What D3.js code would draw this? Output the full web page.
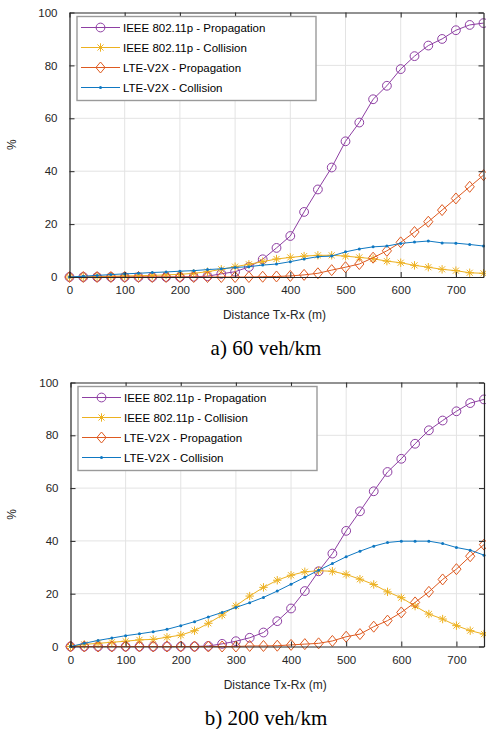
<!DOCTYPE html>
<html>
<head>
<meta charset="utf-8">
<script src="https://cdn.jsdelivr.net/npm/d3@7"></script>
<style>
  body { margin: 0; background: #fff; }
  svg { display: block; }
</style>
</head>
<body>
<svg id="chart" width="486" height="729"></svg>
<script>
// distance Tx-Rx (m), one point every 25 m
var distances = [0, 25, 50, 75, 100, 125, 150, 175, 200, 225, 250, 275, 300, 325, 350, 375,
  400, 425, 450, 475, 500, 525, 550, 575, 600, 625, 650, 675, 700, 725, 750];

var xTicks = [0, 100, 200, 300, 400, 500, 600, 700];
var yTicks = [0, 20, 40, 60, 80, 100];

var seriesNames = ['IEEE 802.11p - Propagation', 'IEEE 802.11p - Collision',
  'LTE-V2X - Propagation', 'LTE-V2X - Collision'];

// a) 60 veh/km
var ieeeProp60 = [0, 0, 0, 0, 0, 0, 0, 0, 0, 0.1, 0.3, 1.2, 2.0, 3.8, 6.7, 11.0,
  15.5, 24.6, 33.1, 41.4, 51.3, 58.4, 67.2, 72.3, 78.6, 83.5, 87.5, 90.0, 93.3, 95.3, 96.0];
var ieeeColl60 = [0, 0.1, 0.2, 0.3, 0.4, 0.5, 0.6, 0.8, 1.0, 1.4, 2.0, 2.9, 3.9, 4.8, 5.8, 6.8,
  7.4, 7.9, 8.2, 8.2, 7.9, 7.4, 6.9, 6.0, 5.4, 4.4, 3.7, 2.9, 2.4, 1.6, 1.4];
var lteProp60 = [0, 0, 0, 0, 0, 0, 0, 0, 0, 0, 0, 0, 0, 0, 0.1, 0.2,
  0.4, 0.8, 1.4, 2.6, 3.7, 4.9, 7.3, 9.9, 13.1, 17.0, 20.9, 25.3, 29.7, 34.1, 38.5];
var lteColl60 = [0, 0.3, 0.6, 0.9, 1.2, 1.4, 1.7, 1.9, 2.2, 2.4, 2.8, 3.1, 3.6, 3.9, 4.5, 4.9,
  5.8, 6.8, 7.7, 7.9, 9.5, 10.6, 11.4, 11.7, 12.7, 13.2, 13.6, 12.9, 12.8, 12.3, 11.7];

// b) 200 veh/km
var ieeeProp200 = [0, 0, 0, 0, 0, 0, 0, 0, 0, 0, 0.2, 1.0, 2.0, 3.3, 5.3, 9.6,
  14.4, 21.0, 28.5, 35.2, 43.8, 51.2, 58.8, 66.1, 71.1, 76.8, 81.9, 85.6, 89.1, 92.2, 93.6];
var ieeeColl200 = [0, 0.8, 1.2, 1.6, 2.0, 2.5, 2.7, 3.5, 4.3, 6.0, 8.8, 11.9, 15.4, 19.1, 22.4, 25.1,
  27.0, 28.3, 28.7, 28.5, 27.3, 25.5, 23.5, 20.7, 18.5, 15.3, 12.3, 10.4, 7.9, 6.0, 4.7];
var lteProp200 = [0, 0, 0, 0, 0, 0, 0, 0, 0, 0, 0, 0, 0, 0.2, 0.2, 0.3,
  0.6, 0.9, 1.2, 2.1, 3.7, 4.7, 7.5, 9.8, 12.9, 16.7, 20.7, 25.4, 29.3, 34.2, 38.6];
var lteColl200 = [0, 1.2, 2.3, 3.2, 4.1, 4.8, 5.6, 6.5, 7.9, 9.4, 11.2, 12.9, 14.8, 16.6, 18.6, 21.0,
  23.6, 26.2, 28.9, 31.4, 34.0, 36.1, 38.0, 39.4, 39.9, 39.9, 39.9, 39.0, 37.5, 36.5, 34.6];

var colors = ['#8E3FA3', '#EDB120', '#DE5A20', '#0F78C2'];
var markers = ['circle', 'star', 'diamond', 'dot'];
var sans = 'Liberation Sans, Arial, Helvetica, sans-serif';

var svg = d3.select('#chart');

function drawMarker(g, kind, color) {
  if (kind == 'circle') {
    g.append('circle').attr('r', 4.4).attr('fill', 'none')
      .attr('stroke', color).attr('stroke-width', 1);
  } else if (kind == 'diamond') {
    g.append('path').attr('d', 'M0,-5.5L4.6,0L0,5.5L-4.6,0Z').attr('fill', 'none')
      .attr('stroke', color).attr('stroke-width', 1);
  } else if (kind == 'star') {
    var r = 4.2, d = r * 0.72;
    g.append('path')
      .attr('d', 'M' + -r + ',0L' + r + ',0M0,' + -r + 'L0,' + r +
        'M' + -d + ',' + -d + 'L' + d + ',' + d + 'M' + -d + ',' + d + 'L' + d + ',' + -d)
      .attr('stroke', color).attr('stroke-width', 1);
  } else {
    g.append('circle').attr('r', 1.5).attr('fill', color);
  }
}

function drawChart(box, series, caption) {
  var x = d3.scaleLinear().domain([0, 750]).range([box.left, box.right]);
  var y = d3.scaleLinear().domain([0, 100]).range([box.bottom, box.top]);
  var g = svg.append('g');

  // grid
  g.selectAll('.vgrid').data(xTicks.slice(1)).enter().append('line')
    .attr('x1', function(d) { return x(d); }).attr('x2', function(d) { return x(d); })
    .attr('y1', box.top).attr('y2', box.bottom)
    .attr('stroke', '#e3e3e3').attr('stroke-width', 1);
  g.selectAll('.hgrid').data(yTicks.slice(1, -1)).enter().append('line')
    .attr('x1', box.left).attr('x2', box.right)
    .attr('y1', function(d) { return y(d); }).attr('y2', function(d) { return y(d); })
    .attr('stroke', '#e3e3e3').attr('stroke-width', 1);

  // series
  var line = d3.line()
    .x(function(d) { return x(d[0]); })
    .y(function(d) { return y(d[1]); });
  series.forEach(function(vals, i) {
    var pts = distances.map(function(d, k) { return [d, vals[k]]; });
    g.append('path').datum(pts).attr('d', line)
      .attr('fill', 'none').attr('stroke', colors[i]).attr('stroke-width', 1);
    pts.forEach(function(p) {
      var m = g.append('g').attr('transform', 'translate(' + x(p[0]) + ',' + y(p[1]) + ')');
      drawMarker(m, markers[i], colors[i]);
    });
  });

  // axes (MATLAB style box with inward ticks)
  var xAxisB = d3.axisBottom(x).tickValues(xTicks).tickSizeInner(-5).tickSizeOuter(0).tickPadding(9);
  var xAxisT = d3.axisTop(x).tickValues(xTicks).tickSizeInner(-5).tickSizeOuter(0).tickFormat('');
  var yAxisL = d3.axisLeft(y).tickValues(yTicks).tickSizeInner(-5).tickSizeOuter(0).tickPadding(12);
  var yAxisR = d3.axisRight(y).tickValues(yTicks).tickSizeInner(-5).tickSizeOuter(0).tickFormat('');

  [[xAxisB, 'translate(0,' + box.bottom + ')'], [xAxisT, 'translate(0,' + box.top + ')'],
   [yAxisL, 'translate(' + box.left + ',0)'], [yAxisR, 'translate(' + box.right + ',0)']]
    .forEach(function(a) {
      var ag = g.append('g').attr('transform', a[1]).call(a[0]);
      ag.select('.domain').attr('stroke', '#262626').attr('stroke-width', 1.2);
      ag.selectAll('.tick line').attr('stroke', '#262626');
      ag.selectAll('text').attr('fill', '#262626').style('font-family', sans).style('font-size', '11.5px');
    });

  // axis labels
  g.append('text').attr('x', (box.left + box.right) / 2 - 2).attr('y', box.bottom + 42)
    .attr('text-anchor', 'middle').attr('fill', '#262626')
    .style('font-family', sans).style('font-size', '12px')
    .text('Distance Tx-Rx (m)');
  g.append('text')
    .attr('transform', 'translate(' + 16 + ',' + (box.top + box.bottom) / 2 + ') rotate(-90)')
    .attr('text-anchor', 'middle').attr('fill', '#262626')
    .style('font-family', sans).style('font-size', '12px')
    .text('%');

  // legend
  var lx = box.left + 7.5, ly = box.top + 4;
  var lg = g.append('g').attr('transform', 'translate(' + lx + ',' + ly + ')');
  lg.append('rect').attr('x', 0).attr('y', 0).attr('width', 239).attr('height', 84)
    .attr('fill', '#fff').attr('stroke', '#9a9a9a').attr('stroke-width', 1.4);
  seriesNames.forEach(function(name, i) {
    var ry = 11 + i * 20;
    lg.append('line').attr('x1', 4).attr('x2', 43).attr('y1', ry).attr('y2', ry)
      .attr('stroke', colors[i]).attr('stroke-width', 1);
    drawMarker(lg.append('g').attr('transform', 'translate(23.5,' + ry + ')'), markers[i], colors[i]);
    lg.append('text').attr('x', 46).attr('y', ry + 4)
      .attr('fill', '#000').style('font-family', sans).style('font-size', '11.5px')
      .text(name);
  });

  // caption
  g.append('text').attr('x', 266).attr('y', box.bottom + 78)
    .attr('text-anchor', 'middle').attr('fill', '#000')
    .style('font-family', 'Liberation Serif, Times New Roman, serif').style('font-size', '21px')
    .text(caption);
}

drawChart({ left: 69.5, right: 483.5, top: 12.5, bottom: 277 },
  [ieeeProp60, ieeeColl60, lteProp60, lteColl60], 'a) 60 veh/km');
drawChart({ left: 70.5, right: 484, top: 382.5, bottom: 646.5 },
  [ieeeProp200, ieeeColl200, lteProp200, lteColl200], 'b) 200 veh/km');
</script>
</body>
</html>
